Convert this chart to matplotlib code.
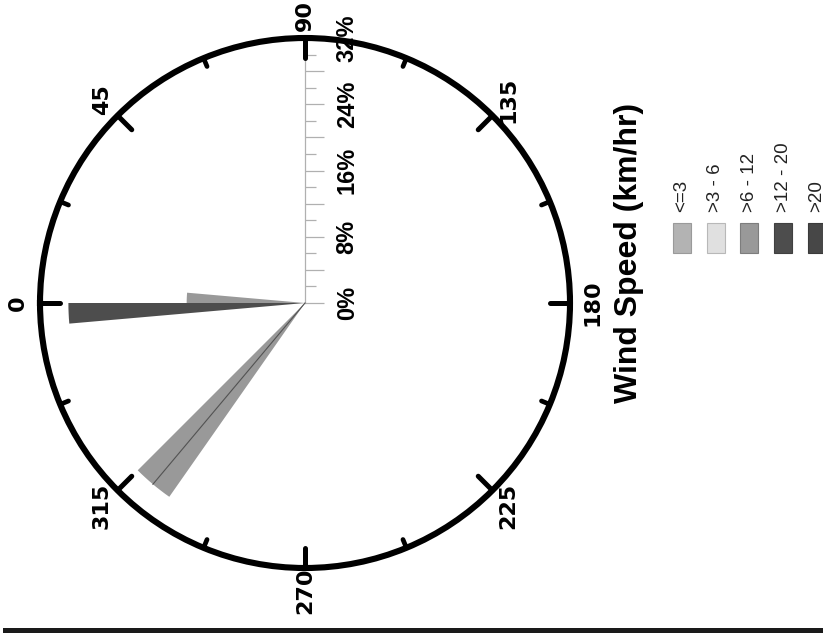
import numpy as np
import matplotlib.pyplot as plt
from matplotlib.patches import Rectangle
from matplotlib.lines import Line2D

# wind direction bins (start angle, deg), frequency (%) and speed class
bin_start = [355, 0, 305, 310]
bin_width = 5
bin_freq = [28.57, 14.29, 28.57, 28.57]
bin_class = [">12 - 20", ">6 - 12", ">6 - 12", ">6 - 12"]

speed_classes = ["<=3", ">3 - 6", ">6 - 12", ">12 - 20", ">20"]
class_colors = ["#b3b3b3", "#e0e0e0", "#999999", "#4d4d4d", "#474747"]
class_edges = ["#9a9a9a", "#b8b8b8", "#7d7d7d", "#404040", "#3a3a3a"]

dir_ticks = [0, 45, 90, 135, 180, 225, 270, 315]
r_label_vals = [0, 8, 16, 24, 32]
r_max = 32

W, H = 823, 633
fig = plt.figure(figsize=(W / 100, H / 100), dpi=100)
rect = [40 / W, 65 / H, 530 / W, 530 / H]

#------------ percentage scale (drawn under the rose) ------------
ax2 = fig.add_axes(rect)
ax2.set_xlim(-r_max, r_max)
ax2.set_ylim(-r_max, r_max)
ax2.axis("off")
ax2.set_zorder(0)
ax2.plot([0, 0], [0, r_max], color="#b0b0b0", lw=0.9)
r_ticks = np.arange(0, r_max + 1, 2)
tick_len = np.where(r_ticks % 4 == 0, 2.3, 1.35)
ax2.hlines(r_ticks, 0, tick_len, color="#b0b0b0", lw=0.9)
for r in r_label_vals:
    ax2.text(5.1, r, f"{r}%", rotation=90, ha="center", va="center",
             fontsize=17, fontweight="bold", family="Liberation Sans")

#------------ the rose ------------
ax = fig.add_axes(rect, projection="polar")
ax.set_zorder(1)
ax.set_facecolor("none")
ax.set_theta_zero_location("W")
ax.set_theta_direction(-1)
ax.set_ylim(0, r_max)

colors = [class_colors[speed_classes.index(c)] for c in bin_class]
ax.bar(np.deg2rad(bin_start), bin_freq, width=np.deg2rad(bin_width), align="edge",
       color=colors, edgecolor="none", linewidth=0)

# thin divider where two neighbouring bins share a speed class
for i in range(len(bin_start)):
    for j in range(len(bin_start)):
        if bin_start[j] == bin_start[i] + bin_width and bin_class[i] == bin_class[j]:
            ax.plot([np.deg2rad(bin_start[j])] * 2, [0, min(bin_freq[i], bin_freq[j])],
                    color="#505050", lw=0.8)

# inward ticks on the rim: long every 45 deg, short in between
for d in dir_ticks:
    ax.plot([np.deg2rad(d)] * 2, [r_max * (1 - 20 / 265), r_max], color="black",
            lw=3.6, solid_capstyle="round", clip_on=False)
    ax.plot([np.deg2rad(d + 22.5)] * 2, [r_max * (1 - 9 / 265), r_max], color="black",
            lw=3.4, solid_capstyle="round", clip_on=False)

ax.set_xticks([])
ax.set_yticks([])
ax.grid(False)
ax.spines["polar"].set_linewidth(4.4)

for d in dir_ticks:
    ax.text(np.deg2rad(d), 34.7, str(d), rotation=90, ha="center", va="center",
            fontsize=16, fontweight="bold", family="DejaVu Sans", clip_on=False)

#------------ legend ------------
fig.text(629 / W, 1 - 253 / H, "Wind Speed (km/hr)", rotation=90, ha="center", va="center",
         fontsize=23, fontweight="bold", family="Liberation Sans")
for i, (lab, fc, ec) in enumerate(zip(speed_classes, class_colors, class_edges)):
    x0 = 673 + i * 33.7
    fig.add_artist(Rectangle((x0 / W, 1 - 253 / H), 18 / W, 30 / H, transform=fig.transFigure,
                             facecolor=fc, edgecolor=ec, lw=0.8))
    fig.text((x0 + 9) / W, 1 - 212 / H, lab, rotation=90, ha="center", va="bottom",
             fontsize=13.5, color="#222222", family="Liberation Sans")

fig.add_artist(Line2D([0.006, 1], [0.004, 0.004], transform=fig.transFigure,
                      color="#1a1a1a", lw=3.6))

fig.savefig("out.png", dpi=100)
